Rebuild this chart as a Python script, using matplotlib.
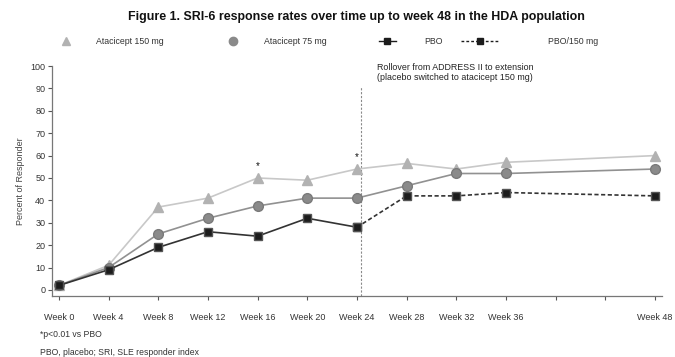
import matplotlib
matplotlib.use("Agg")
import matplotlib.pyplot as plt
from matplotlib.lines import Line2D

plt.rcParams['font.family'] = ['Liberation Sans', 'DejaVu Sans']

# Response rates (% responders) by visit
weeks = [0, 4, 8, 12, 16, 20, 24, 28, 32, 36, 48]
atacicept_150 = [2, 11, 37, 41, 50, 49, 54, 56.5, 54, 57, 60]
atacicept_75 = [2, 10, 25, 32, 37.5, 41, 41, 46.5, 52, 52, 54]
pbo_weeks = [0, 4, 8, 12, 16, 20, 24]
pbo = [2, 9, 19, 26, 24, 32, 28]
pbo150_weeks = [24, 28, 32, 36, 48]
pbo_150 = [28, 42, 42, 43.5, 42]

tick_weeks = list(range(0, 49, 4))
tick_labels = [f"Week {w}" if w not in (40, 44) else "" for w in tick_weeks]
sig_weeks = [16, 24]
sig_values = [50, 54]
rollover_week = 24.3

title = "Figure 1. SRI-6 response rates over time up to week 48 in the HDA population"
legend_labels = ["Atacicept 150 mg", "Atacicept 75 mg", "PBO", "PBO/150 mg"]

fig = plt.figure(figsize=(6.75, 3.57), dpi=100)
ax = fig.add_axes([0.0763, 0.171, 0.905, 0.644])

c150_line, c150_mark = "#c8c8c8", "#b2b2b2"
c75_line, c75_mark = "#919191", "#8a8a8a"
cpbo = "#1c1c1c"

ax.plot(weeks, atacicept_150, color=c150_line, lw=1.2, marker="^", ms=7,
        mfc=c150_mark, mec=c150_mark, zorder=3)
ax.plot(weeks, atacicept_75, color=c75_line, lw=1.2, marker="o", ms=7,
        mfc=c75_mark, mec="#7a7a7a", zorder=4)
ax.plot(pbo_weeks, pbo, color="#333333", lw=1.2, marker="s", ms=6,
        mfc=cpbo, mec="#555555", zorder=5)
ax.plot(pbo150_weeks, pbo_150, color="#333333", lw=1.2, ls=(0, (2.5, 1.5)),
        marker="s", ms=6, mfc=cpbo, mec="#555555", zorder=5)

for w, v in zip(sig_weeks, sig_values):
    ax.annotate("*", (w, v), xytext=(0, 5), textcoords="offset points",
                ha="center", va="bottom", fontsize=7, color="#111111")

ax.plot([rollover_week, rollover_week], [-2.7, 91], color="#8a8a8a", lw=0.8,
        ls=(0, (2, 1.5)), zorder=1)
ax.text(31.9, 97, "Rollover from ADDRESS II to extension\n(placebo switched to atacicept 150 mg)",
        ha="center", va="center", fontsize=6.4, color="#222222", linespacing=1.2)

ax.set_xlim(-0.6, 48.6)
ax.set_ylim(-2.7, 100)
ax.set_xticks(tick_weeks)
ax.set_xticklabels(tick_labels)
ax.set_yticks(range(0, 101, 10))
ax.tick_params(axis="x", length=3, pad=9, labelsize=6.5, colors="#555555",
               labelcolor="#333333", width=0.8)
ax.tick_params(axis="y", length=3, pad=1.5, labelsize=6.5, colors="#555555",
               labelcolor="#333333", width=0.8)
for side in ("top", "right"):
    ax.spines[side].set_visible(False)
for side in ("left", "bottom"):
    ax.spines[side].set_color("#777777")
    ax.spines[side].set_linewidth(0.9)
ax.spines["left"].set_bounds(-2.7, 100)
ax.set_ylabel("Percent of Responder", fontsize=6.5, color="#444444", labelpad=4)

fig.text(0.528, 0.952, title, ha="center", va="center", fontsize=8.9,
         fontweight="bold", color="#111111")

# Legend row across the top
leg_y = 0.885
handles = [
    dict(x=0.098, style=dict(marker="^", color=c150_mark, ms=6, ls="none")),
    dict(x=0.345, style=dict(marker="o", color=c75_mark, ms=6, ls="none")),
    dict(x=0.574, style=dict(marker="s", color=cpbo, ms=5, ls="-", lw=1)),
    dict(x=0.711, style=dict(marker="s", color=cpbo, ms=5, ls=(0, (2, 1.5)), lw=1)),
]
half_widths = [0.0, 0.0, 0.012, 0.028]
text_x = [0.142, 0.391, 0.628, 0.812]
for h, hw, tx, lab in zip(handles, half_widths, text_x, legend_labels):
    x = h["x"]
    if hw > 0:
        fig.add_artist(Line2D([x - hw, x + hw], [leg_y, leg_y], transform=fig.transFigure,
                              color=h["style"]["color"], ls=h["style"]["ls"], lw=1))
    fig.add_artist(Line2D([x], [leg_y], transform=fig.transFigure, marker=h["style"]["marker"],
                          color=h["style"]["color"], ms=h["style"]["ms"], ls="none"))
    fig.text(tx, leg_y, lab, ha="left", va="center", fontsize=6.3, color="#333333")

fig.text(0.059, 0.062, "*p<0.01 vs PBO", ha="left", va="center", fontsize=6.2, color="#333333")
fig.text(0.059, 0.012, "PBO, placebo; SRI, SLE responder index", ha="left", va="center",
         fontsize=6.2, color="#333333")

fig.savefig("out.png", dpi=100, facecolor="white")
